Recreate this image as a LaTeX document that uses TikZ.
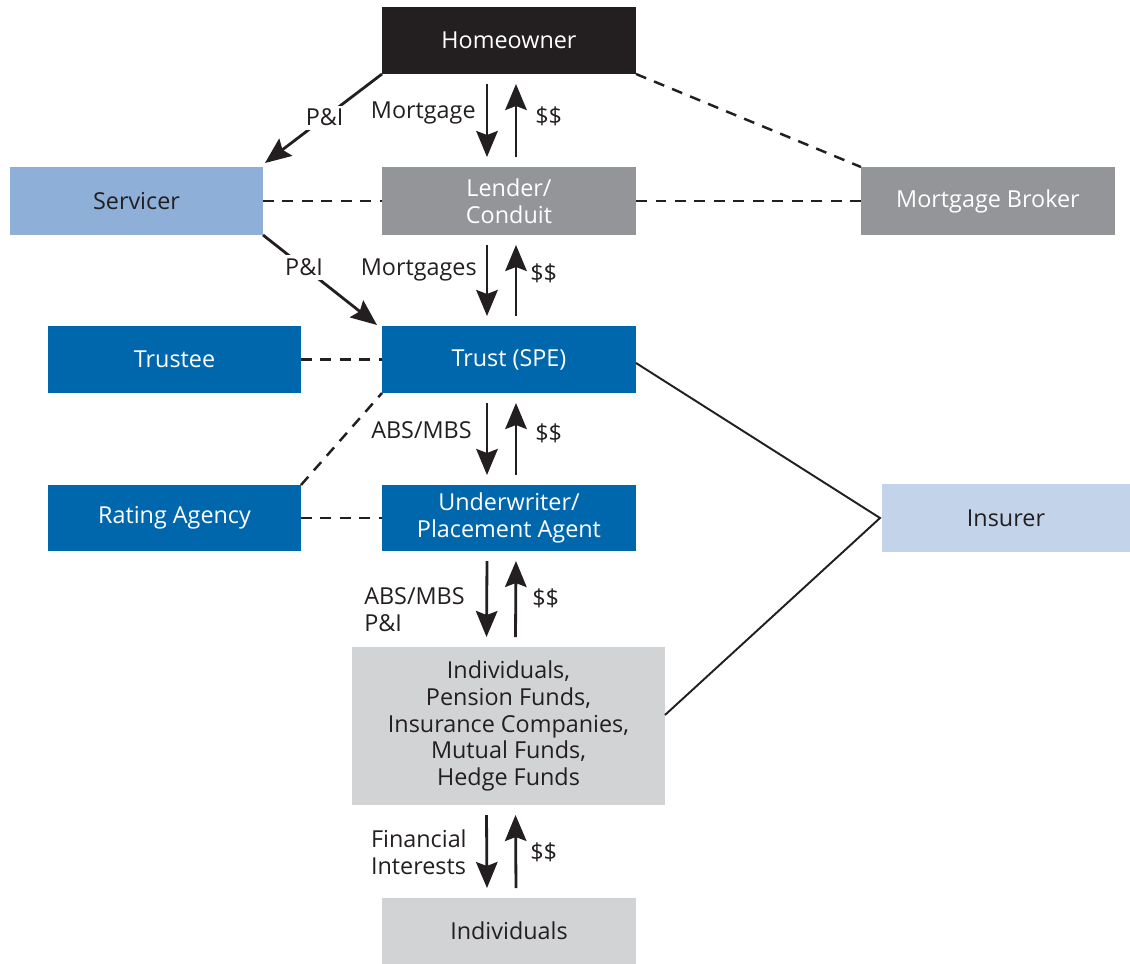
\documentclass[tikz,border=0pt]{standalone}
\usepackage{fontspec}
\setmainfont{Open Sans}
\usetikzlibrary{arrows.meta}
\newlength\px \setlength\px{0.02cm}
\definecolor{cblack}{HTML}{231F20}
\definecolor{cserv}{HTML}{8EB0D8}
\definecolor{cgray}{HTML}{939598}
\definecolor{cblue}{HTML}{0067AC}
\definecolor{cins}{HTML}{C2D3EA}
\definecolor{clight}{HTML}{D1D3D4}
\begin{document}
\begin{tikzpicture}[x=0.02cm,y=-0.02cm,
  font=\fontsize{13.3}{15.2}\selectfont,
  box/.style={inner sep=0pt, outer sep=0pt, align=center, minimum width=254\px, minimum height=67\px},
  darktext/.style={text=cblack},
  flow/.style={line width=1.6pt, draw=cblack, -{Stealth[length=0.52cm,width=0.43cm,inset=0.08cm]}},
  dsh/.style={line width=1.4pt, draw=cblack, dash pattern=on 0.22cm off 0.17cm},
  solidln/.style={line width=1.1pt, draw=cblack},
  lbl/.style={inner sep=0pt, text=cblack, align=left},
  pil/.style={fill=white, inner sep=2pt, text=cblack}
]
\useasboundingbox (0,0) rectangle (1130,964);

% boxes
\node[box, fill=cblack, text=white] (home) at (509,40.5) {Homeowner};
\node[box, fill=cserv, darktext, minimum width=253\px, minimum height=68\px] (serv) at (136.5,201) {Servicer};
\node[box, fill=cgray, text=white, minimum height=68\px] (lender) at (509,201) {Lender/\\Conduit};
\node[box, fill=cgray, text=white, minimum height=68\px] (broker) at (988,201) {Mortgage Broker};
\node[box, fill=cblue, text=white, minimum width=253\px] (trustee) at (174.5,359.5) {Trustee};
\node[box, fill=cblue, text=white] (trust) at (509,359.5) {Trust (SPE)};
\node[box, fill=cblue, text=white, minimum width=253\px, minimum height=66\px] (rating) at (174.5,518) {Rating Agency};
\node[box, fill=cblue, text=white, minimum height=66\px] (under) at (509,518) {Underwriter/\\Placement Agent};
\node[box, fill=cins, darktext, minimum width=248\px, minimum height=68\px] (insurer) at (1006,518) {Insurer};
\node[box, fill=clight, darktext, minimum width=313\px, minimum height=158\px] (inv) at (508.5,726)
  {Individuals,\\Pension Funds,\\Insurance Companies,\\Mutual Funds,\\Hedge Funds};
\node[box, fill=clight, darktext, minimum height=66\px] (ind) at (509,931) {Individuals};

% vertical flows
\draw[flow] ([shift={(-22,10)}]home.south) -- ([shift={(-22,-10)}]lender.north);
\draw[flow] ([shift={(7,-10)}]lender.north) -- ([shift={(7,10)}]home.south);
\draw[flow] ([shift={(-22,10)}]lender.south) -- ([shift={(-22,-10)}]trust.north);
\draw[flow] ([shift={(7,-10)}]trust.north) -- ([shift={(7,10)}]lender.south);
\draw[flow] ([shift={(-22,10)}]trust.south) -- ([shift={(-22,-10)}]under.north);
\draw[flow] ([shift={(7,-10)}]under.north) -- ([shift={(7,10)}]trust.south);
\draw[flow] ([shift={(-22,10)}]under.south) -- ([shift={(-22,-10)}]inv.north);
\draw[flow] ([shift={(7,-10)}]inv.north) -- ([shift={(7,10)}]under.south);
\draw[flow] ([shift={(-22,10)}]inv.south) -- ([shift={(-22,-10)}]ind.north);
\draw[flow] ([shift={(7,-10)}]ind.north) -- ([shift={(7,10)}]inv.south);

% flow labels
\node[lbl, anchor=east] (l1) at (476,113) {Mortgage};
\node[lbl, anchor=west] (d1) at (535,116) {\$\$};
\node[lbl, anchor=east] (l2) at (477,270) {Mortgages};
\node[lbl, anchor=west] (d2) at (530,273) {\$\$};
\node[lbl, anchor=east] (l3) at (472,430) {ABS/MBS};
\node[lbl, anchor=west] (d3) at (535,433) {\$\$};
\node[lbl, anchor=east] (l4) at (465,609.5) {ABS/MBS\\P\&I};
\node[lbl, anchor=west] (d4) at (532,598) {\$\$};
\node[lbl, anchor=east] (l5) at (467,852.5) {Financial\\Interests};
\node[lbl, anchor=west] (d5) at (530,852) {\$\$};

% P&I arrows
\draw[flow] (home.south west) -- node[pil, pos=0.49] {P\&I} ([shift={(2,-4)}]serv.north east);
\draw[flow] (serv.south east) -- node[pil, pos=0.36] {P\&I} ([shift={(-5,-1)}]trust.north west);

% dashed relations
\draw[dsh] (serv.east) -- (lender.west);
\draw[dsh] (lender.east) -- (broker.west);
\draw[dsh] (home.south east) -- (broker.north west);
\draw[dsh] (trustee.east) -- (trust.west);
\draw[dsh] (rating.east) -- (under.west);
\draw[dsh] (rating.north east) -- (trust.south west);

% insurer
\coordinate (insp) at ([shift={(-2,0)}]insurer.west);
\draw[solidln] ([shift={(0,3.5)}]trust.east) -- (insp) -- ([shift={(0,-11)}]inv.east);
\end{tikzpicture}
\end{document}
